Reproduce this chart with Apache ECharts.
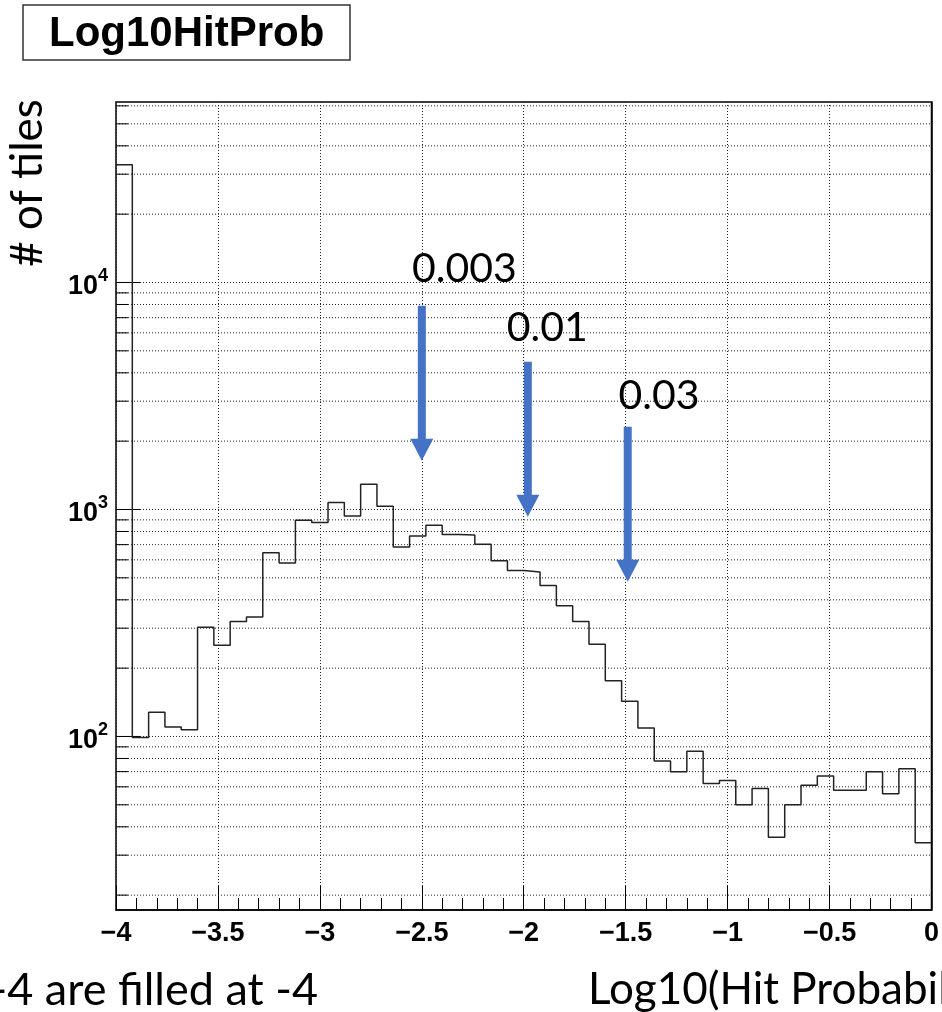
<!DOCTYPE html>
<html lang="en">
<head>
    <meta charset="UTF-8">
    <title>Log10HitProb</title>
    <script src="https://cdn.jsdelivr.net/npm/echarts@6.0.0/dist/echarts.min.js"></script>
    <style>
        html, body { margin: 0; padding: 0; background: #fff; }
        #chart { width: 942px; height: 1012px; }
    </style>
</head>
<body>
    <div id="chart"></div>
    <script>
        // histogram: 50 bins of 0.08 from -4 to 0
        var xMin = -4;
        var xMax = 0;
        var binWidth = 0.08;
        var counts = [
            33000, 99, 128, 110, 107, 303, 252, 321, 336, 644,
            581, 897, 877, 1074, 937, 1293, 1034, 684, 765, 853,
            776, 772, 703, 594, 538, 531, 462, 377, 321, 255,
            176, 143, 109, 78, 70, 86, 62, 64, 50, 59,
            36, 50, 61, 67, 58, 58, 70, 56, 72, 34
        ];

        // y axis: decades get labels and long ticks, the rest short ticks + dotted grid
        var yMajorTicks = [100, 1000, 10000];
        var yMinorTicks = [20, 30, 40, 50, 60, 70, 80, 90, 200, 300, 400, 500, 600, 700, 800, 900,
            2000, 3000, 4000, 5000, 6000, 7000, 8000, 9000, 20000, 30000, 40000, 50000, 60000];

        // blue arrows drawn on top of the plot
        var arrowX = [-2.5, -1.98, -1.49];
        var arrowTop = [7890, 4480, 2313];
        var arrowTip = [1638, 928, 480];
        var arrowLabels = ['0.003', '0.01', '0.03'];
        var labelX = [-2.548, -2.083, -1.535];
        var labelY = [11480, 6310, 3160];

        var stepData = [];
        for (var i = 0; i < counts.length; i++) {
            stepData.push([xMin + i * binWidth, counts[i]]);
        }
        stepData.push([xMin + counts.length * binWidth, counts[counts.length - 1]]);

        var arrowData = arrowX.map(function (x, i) {
            return [x, arrowTop[i], arrowTip[i], labelX[i], labelY[i]];
        });

        var tickData = yMinorTicks.map(function (v) { return [v, 12]; })
            .concat(yMajorTicks.map(function (v) { return [v, 24]; }));

        var rootFont = "'Liberation Sans', Arial, sans-serif";
        var slideFont = "Lato, 'Noto Sans', sans-serif";
        var dotted = { color: '#222', width: 1, type: [1, 2] };
        var yMin = 17.2, yMax = 62400;

        var chart = echarts.init(document.getElementById('chart'));
        chart.setOption({
            animation: false,
            title: {
                text: 'Log10HitProb',
                left: 23,
                top: 5,
                padding: [7, 26, 4, 26],
                borderColor: '#333',
                borderWidth: 1.5,
                textStyle: { fontFamily: rootFont, fontWeight: 'bold', fontSize: 42, lineHeight: 44, color: '#000' }
            },
            grid: { left: 116, right: 8, top: 102, bottom: 102, show: true, borderColor: '#000', borderWidth: 1.5 },
            xAxis: {
                type: 'value',
                min: xMin,
                max: xMax,
                interval: 0.5,
                axisLine: { lineStyle: { color: '#000', width: 1.5 } },
                axisTick: { inside: true, length: 24, lineStyle: { color: '#000', width: 1 } },
                minorTick: { show: true, splitNumber: 5, length: 12, lineStyle: { color: '#000', width: 1 } },
                splitLine: { show: true, lineStyle: dotted },
                axisLabel: {
                    margin: 10,
                    fontFamily: rootFont,
                    fontWeight: 'bold',
                    fontSize: 27,
                    color: '#000',
                    formatter: function (v) { return v < 0 ? '\u2212' + Math.abs(v) : String(v); }
                }
            },
            yAxis: {
                type: 'log',
                min: yMin,
                max: yMax,
                axisLine: { show: true, lineStyle: { color: '#000', width: 1.5 } },
                axisTick: { show: false },
                splitLine: { show: false },
                axisLabel: {
                    margin: 8,
                    showMinLabel: false,
                    showMaxLabel: false,
                    formatter: function (v) {
                        if (yMajorTicks.indexOf(Math.round(v)) < 0) return '';
                        return '{b|10}{s|' + Math.round(Math.log10(v)) + '}';
                    },
                    rich: {
                        b: { fontFamily: rootFont, fontWeight: 'bold', fontSize: 27, lineHeight: 30, color: '#000', padding: [8, 0, 0, 0] },
                        s: { fontFamily: rootFont, fontWeight: 'bold', fontSize: 18, lineHeight: 18, color: '#000', verticalAlign: 'top' }
                    }
                }
            },
            graphic: [{
                type: 'text',
                x: 28,
                y: 183,
                rotation: Math.PI / 2,
                style: { text: '# of tiles', font: '44px ' + slideFont, fill: '#000', align: 'center', verticalAlign: 'middle' }
            }, {
                type: 'text',
                x: 318,
                y: 990,
                style: { text: '-4 are filled at -4', font: '45px ' + slideFont, fill: '#000', align: 'right', verticalAlign: 'middle' }
            }, {
                type: 'text',
                x: 588,
                y: 990,
                style: { text: 'Log10(Hit Probability)', font: '44px ' + slideFont, fill: '#000', align: 'left', verticalAlign: 'middle' }
            }],
            series: [{
                // log ticks on the y axis with dotted grid lines
                type: 'custom',
                data: tickData,
                encode: { y: 0 },
                silent: true,
                z: 1,
                renderItem: function (params, api) {
                    var v = api.value(0);
                    var len = api.value(1);
                    var a = api.coord([xMin, v]);
                    var b = api.coord([xMax, v]);
                    return {
                        type: 'group',
                        children: [{
                            type: 'line',
                            shape: { x1: a[0], y1: a[1], x2: b[0], y2: b[1] },
                            style: { stroke: dotted.color, lineWidth: 1, lineDash: dotted.type }
                        }, {
                            type: 'line',
                            shape: { x1: a[0], y1: a[1], x2: a[0] + len, y2: a[1] },
                            style: { stroke: '#000', lineWidth: 1 }
                        }]
                    };
                }
            }, {
                type: 'line',
                step: 'end',
                data: stepData,
                showSymbol: false,
                lineStyle: { color: '#222', width: 1.5 },
                z: 3
            }, {
                type: 'custom',
                data: arrowData,
                encode: { x: [0, 3], y: [1, 2, 4] },
                clip: false,
                z: 5,
                renderItem: function (params, api) {
                    var top = api.coord([api.value(0), api.value(1)]);
                    var tip = api.coord([api.value(0), api.value(2)]);
                    var lab = api.coord([api.value(3), api.value(4)]);
                    var cx = top[0], hw = 4, headW = 11.5, headH = 22;
                    return {
                        type: 'group',
                        children: [{
                            type: 'polygon',
                            shape: {
                                points: [
                                    [cx - hw, top[1]], [cx + hw, top[1]], [cx + hw, tip[1] - headH],
                                    [cx + headW, tip[1] - headH], [cx, tip[1]], [cx - headW, tip[1] - headH],
                                    [cx - hw, tip[1] - headH]
                                ]
                            },
                            style: { fill: '#4472C4' }
                        }, {
                            type: 'text',
                            x: lab[0],
                            y: lab[1],
                            style: {
                                text: arrowLabels[params.dataIndex],
                                font: '41px ' + slideFont,
                                fill: '#000',
                                align: 'left',
                                verticalAlign: 'middle'
                            }
                        }]
                    };
                }
            }]
        });
    </script>
</body>
</html>
